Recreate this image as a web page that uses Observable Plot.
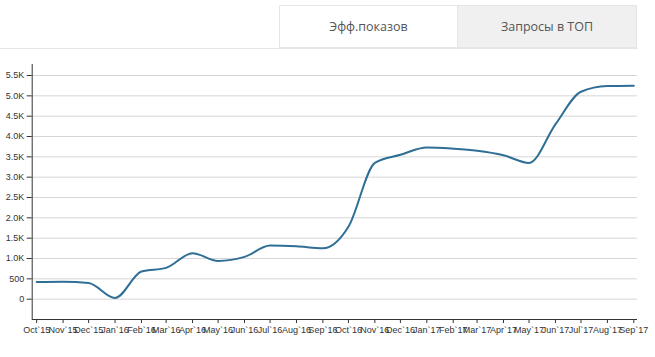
<!DOCTYPE html>
<html>
<head>
<meta charset="utf-8">
<script src="https://cdn.jsdelivr.net/npm/d3@7"></script>
<script src="https://cdn.jsdelivr.net/npm/@observablehq/plot@0.6"></script>
<style>
  html, body { margin: 0; padding: 0; background: #fff; }
  body { width: 655px; height: 357px; position: relative; overflow: hidden; }
  #tabs { position: absolute; left: 0; top: 0; width: 655px; height: 49px; }
  #tabs .hline { position: absolute; left: 0; top: 48px; width: 638px; height: 1px; background: #e6e6e6; }
  .tab { position: absolute; top: 5px; height: 43px; width: 179px; box-sizing: border-box;
         border: 1px solid #e6e6e6; font-family: "Open Sans", sans-serif; font-size: 12.5px; color: #555;
         display: flex; align-items: center; justify-content: center; }
  #tab1 { left: 279px; background: #fff; }
  #tab2 { left: 458px; background: #f0f0f0; border-left: none; }
  #chart { position: absolute; left: 0; top: 49px; }
</style>
</head>
<body>
<div id="tabs">
  <div class="hline"></div>
  <div class="tab" id="tab1">Эфф.показов</div>
  <div class="tab" id="tab2">Запросы в ТОП</div>
</div>
<div id="chart"></div>
<script>
const months = ["2015-10-01","2015-11-01","2015-12-01","2016-01-01","2016-02-01","2016-03-01",
  "2016-04-01","2016-05-01","2016-06-01","2016-07-01","2016-08-01","2016-09-01",
  "2016-10-01","2016-11-01","2016-12-01","2017-01-01","2017-02-01","2017-03-01",
  "2017-04-01","2017-05-01","2017-06-01","2017-07-01","2017-08-01","2017-09-01"];
const monthLabels = ["Oct`15","Nov`15","Dec`15","Jan`16","Feb`16","Mar`16","Apr`16","May`16",
  "Jun`16","Jul`16","Aug`16","Sep`16","Oct`16","Nov`16","Dec`16","Jan`17","Feb`17","Mar`17",
  "Apr`17","May`17","Jun`17","Jul`17","Aug`17","Sep`17"];
const values = [420, 430, 400, 30, 680, 770, 1130, 940, 1040, 1320, 1300, 1250,
  1780, 3350, 3550, 3730, 3700, 3650, 3540, 3350, 4300, 5100, 5240, 5250];
const yTicks = [0, 500, 1000, 1500, 2000, 2500, 3000, 3500, 4000, 4500, 5000, 5500];
const yTickLabels = ["0","500","1.0K","1.5K","2.0K","2.5K","3.0K","3.5K","4.0K","4.5K","5.0K","5.5K"];

const dates = months.map(s => new Date(s + "T00:00:00Z"));
const data = dates.map((d, i) => ({date: d, value: values[i]}));
const xLabelMap = new Map(dates.map((d, i) => [+d, monthLabels[i]]));
const yLabelMap = new Map(yTicks.map((v, i) => [v, yTickLabels[i]]));
const xDomain = [new Date("2015-09-25T18:00:00Z"), new Date("2017-09-05T08:00:00Z")];
const yDomain = [-500, 5771];

const chart = Plot.plot({
  width: 655,
  height: 308,
  marginTop: 15,
  marginBottom: 38,
  marginLeft: 31.7,
  marginRight: 18,
  style: {fontFamily: "'Liberation Sans', Arial, sans-serif", fontSize: "9px", color: "#333", background: "#fff", overflow: "visible"},
  x: {type: "utc", domain: xDomain},
  y: {domain: yDomain},
  marks: [
    Plot.gridY(yTicks, {stroke: "#d6d6d6", strokeOpacity: 1}),
    Plot.axisY(yTicks, {tickSize: 5, tickPadding: 3, tickFormat: d => yLabelMap.get(d), label: null, fontSize: 9, fill: "#333", stroke: "#333"}),
    Plot.axisX(dates, {tickSize: 4, tickPadding: 3, tickFormat: d => xLabelMap.get(+d), label: null, fontSize: 9, fill: "#333", stroke: "#333"}),
    Plot.ruleX([xDomain[0]], {stroke: "#333", strokeWidth: 1}),
    Plot.ruleY([yDomain[0]], {stroke: "#333", strokeWidth: 1}),
    Plot.lineY(data, {x: "date", y: "value", curve: "monotone-x", stroke: "#2f6f95", strokeWidth: 2})
  ]
});
document.getElementById("chart").appendChild(chart);
</script>
</body>
</html>
